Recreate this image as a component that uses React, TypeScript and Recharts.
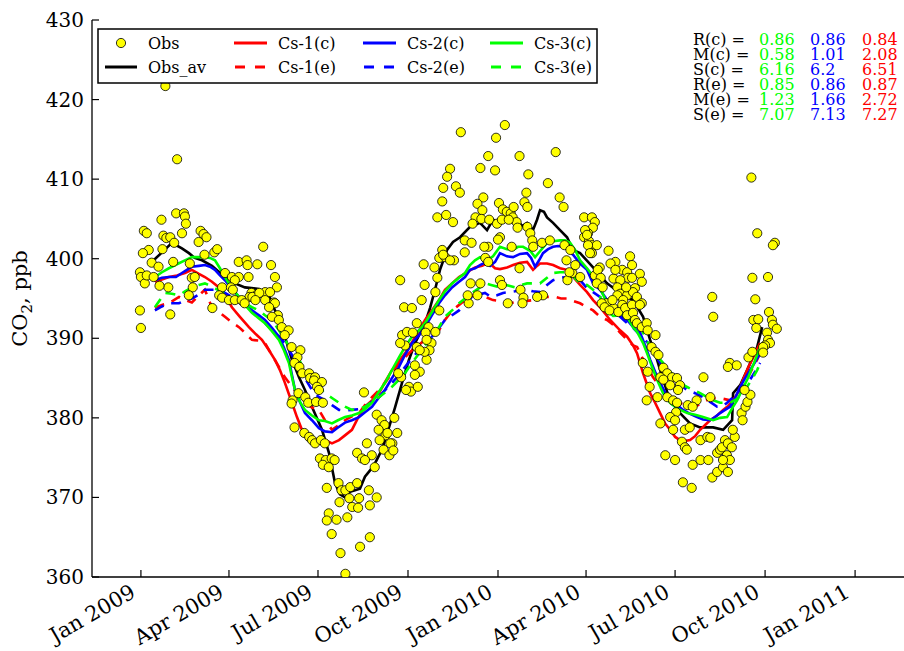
import React from 'react';
import { ComposedChart, Line, Scatter, XAxis, YAxis } from 'recharts';

// ---------- data (day = days since 1 Jan 2009, value = CO2 ppb) ----------
const xTickDays = [0, 90, 181, 273, 365, 455, 546, 638, 730];
const xTickLabels = ['Jan 2009', 'Apr 2009', 'Jul 2009', 'Oct 2009', 'Jan 2010', 'Apr 2010', 'Jul 2010', 'Oct 2010', 'Jan 2011'];
const yTicks = [360, 370, 380, 390, 400, 410, 420, 430];

const statLabels = ['R(c) =', 'M(c) =', 'S(c) =', 'R(e) =', 'M(e) =', 'S(e) ='];
const cs3Stats = ['0.86', '0.58', '6.16', '0.85', '1.23', '7.07'];
const cs2Stats = ['0.86', '1.01', '6.2', '0.86', '1.66', '7.13'];
const cs1Stats = ['0.84', '2.08', '6.51', '0.87', '2.72', '7.27'];

const obs: [number, number][] = [
  [25,421.7],[37,412.5],[36,405.7],[44,405.7],[45,405.3],[21,404.9],[46,404.4],[3,403.5],[6,403.2],[23,402.9],[26,402.6],[30,402.7],[42,403.2],[61,403.5],[64,403.1],[67,402.7],[59,402.1],[34,402.0],[22,401.2],[8,401.1],[2,400.7],[75,400.8],[78,401.2],[65,400.5],[125,401.5],[11,399.5],[33,399.6],[50,399.4],[18,399.0],[-1,398.3],[0,397.7],[4,396.9],[6,397.9],[13,397.7],[28,396.4],[19,396.6],[52,397.6],[55,397.7],[53,396.4],[49,395.4],[86,398.2],[93,397.7],[100,399.6],[108,399.8],[109,399.2],[119,399.3],[133,399.2],[100,397.7],[96,397.3],[110,397.7],[137,397.7],[139,396.4],[83,396.4],[92,396.4],[113,395.7],[111,395.2],[118,395.4],[127,395.8],[136,394.5],[140,392.9],[-1,393.5],[30,393.0],[73,393.8],
  [0,391.3],[80,395.4],[83,395.1],[94,396.1],[90,394.8],[96,394.8],[103,394.8],[114,395.2],[106,394.4],[121,395.7],[117,394.8],[127,394.8],[132,395.8],[137,394.4],[131,393.9],[134,392.7],[141,392.3],[144,391.4],[151,391.0],[147,390.4],[154,388.9],[163,388.5],[160,387.6],[157,386.9],[162,386.4],[165,385.6],[172,385.6],[173,385.0],[178,385.1],[177,384.7],[185,384.5],[180,383.9],[182,383.5],[161,383.1],[168,382.6],[171,381.9],[155,382.2],[154,381.8],[179,382.0],[186,381.9],[157,378.8],[167,378.1],[172,377.6],[175,377.2],[178,376.8],[184,377.2],[188,376.8],[183,374.9],[189,374.7],[195,374.9],[198,374.7],[186,374.1],[192,373.8],[190,371.2],[202,371.8],[205,370.9],[209,370.9],[214,371.3],[221,371.8],[203,369.4],[213,369.9],[223,369.9],[233,370.9],[241,370.0],[216,368.8],[222,368.7],[234,369.0],[192,368.0],[190,367.1],[200,367.2],[211,367.5],[195,365.4],[234,365.0],[204,363.0],[224,363.8],[209,360.4],[228,383.2],[231,376.8],[221,375.6],[226,374.9],[236,375.3],[239,373.8],[229,374.7],[241,380.4],[246,379.7],[249,379.1],[243,378.5],[250,377.8],[259,380.0],[262,378.1],[257,376.8],[244,377.2],[248,376.0],[255,376.8],[254,375.3],[258,375.9],[265,397.3],[269,393.9],[277,393.8],[287,394.8],[290,396.7],[289,399.3],[300,398.9],[267,390.4],[272,390.8],[278,390.7],[282,391.9],[294,391.4],[291,390.7],[301,390.8],[305,393.5],[297,389.4],[295,388.5],[292,387.3],[285,385.8],[280,385.4],[266,385.1],[274,383.9],[276,383.3],[283,383.9],[271,383.5],[337,396.9],[347,396.9],[335,394.4],[305,400.1],[311,400.2],[320,399.8],
  [308,401.1],[309,400.5],[316,399.8],[303,397.6],[301,395.8],[282,388.9],[270,389.1],[290,388.3],[280,386.6],[263,385.6],[252,378.1],[344,395.4],[367,397.3],[369,396.7],[388,396.1],[391,395.1],[390,394.4],[375,394.4],[352,400.1],[355,399.6],[331,402.3],[338,402.0],[355,401.5],[379,401.5],[387,398.8],
  [372,416.8],[327,415.9],[363,415.2],[424,413.4],[355,412.9],[387,412.9],[316,411.3],[313,410.3],[347,411.4],[362,411.1],[396,410.6],[322,409.1],[326,408.3],[309,408.9],[416,409.5],[308,407.2],[350,407.7],[344,406.9],[394,408.3],[392,407.1],[395,406.5],[428,407.7],[432,406.5],[366,407.0],[370,406.2],[374,405.9],[378,405.7],[381,406.5],[349,406.1],[303,405.2],[312,405.5],[319,404.6],[342,405.2],[348,405.0],[356,404.9],[364,404.4],[369,404.9],[339,404.4],[380,405.2],[384,404.6],[376,404.9],[385,403.9],[395,404.0],[398,403.2],[367,402.7],[365,402.4],[351,401.5],[400,402.3],[401,401.5],[410,402.0],[418,402.3],[453,405.2],[461,405.2],[464,404.6],[462,403.9],[457,403.2],[453,402.7],[458,402.2],[461,401.7],[466,401.7],[461,400.7],[478,401.0],[485,399.6],[480,399.4],[492,398.6],[497,398.3],[500,400.3],[502,399.2],[510,398.1],[512,397.1],[505,396.3],[498,397.6],[469,398.9],[464,397.9],[483,397.5],[490,397.3],[487,396.4],[490,395.6],[497,395.4],[503,395.8],[507,395.2],[512,394.4],[476,394.4],[483,393.8],[526,390.4],[331,400.8],[334,395.4],[411,395.4],[405,395.2],[436,397.3],[441,398.2],[265,389.4],[292,389.8],[285,388.5],
  [454,403.6],[456,403.0],[457,401.7],[459,400.7],[433,401.7],[439,401.1],[435,399.8],[444,399.2],[438,398.3],[449,397.7],[467,398.6],[470,397.6],[466,396.9],[472,396.4],[485,398.6],[502,397.6],[496,396.4],[487,395.4],[482,394.8],[493,394.8],[492,394.2],[471,394.4],[474,393.9],[479,393.5],[488,393.3],[495,393.8],[497,392.9],[502,394.2],[510,394.2],[503,393.2],[505,392.3],[507,391.9],[512,391.4],[517,391.9],[518,391.0],[513,386.9],[518,385.8],[522,388.9],[526,388.3],[529,387.9],[534,386.3],[538,385.6],[531,385.1],[543,385.1],[548,385.0],[551,384.1],[549,383.5],[541,384.1],[534,384.8],[520,383.9],[528,382.6],[517,382.2],[538,382.6],[544,382.2],[548,381.9],[547,380.7],[559,381.6],[568,382.2],[564,381.4],[575,385.1],[582,382.6],[541,380.1],[546,379.7],[544,378.5],[531,379.3],[556,378.5],[561,378.8],[553,377.0],[556,376.3],[558,376.0],[572,377.2],[579,377.6],[582,377.5],[536,375.3],[546,374.7],[564,374.1],[572,374.7],[580,374.7],[554,371.9],[563,371.2],[584,372.5],[589,373.2],[595,373.8],[600,373.2],[589,375.6],[592,376.0],[599,375.3],[602,374.7],[595,374.7],[597,377.2],[594,376.3],[600,376.8],[604,376.3],[607,377.6],[605,378.5],[602,386.9],[609,386.6],[600,386.4],[614,380.6],[615,379.7],[618,381.4],[620,382.0],[623,382.9],[617,383.5],[621,387.6],[584,395.2],[585,392.7],[625,397.6],[641,397.7],[628,394.9],[630,403.2],[648,402.0],[646,401.7],[642,393.3],[626,392.3],[629,391.3],[631,392.4],[645,392.3],[646,391.7],[650,391.2],[640,390.7],[641,389.8],[643,389.4],[638,389.1],[636,388.9],[636,388.2],[625,388.3],[624,410.2],
];

const obsAv: [number, number][] = [
  [13,399.8],[21.5,400.8],[31.7,402.0],[41.9,401.3],[49.1,400.7],[55,400.1],[62.4,399.8],[72.6,399.1],[85.9,397.7],[96.1,396.9],[106.3,396.4],[120.7,396.2],[130.9,395.4],[137,393.5],[141.1,392.7],[147.2,390.2],[154.4,387.3],[161.6,385.1],[167.7,383.5],[174.8,381.4],[185.1,378.5],[192.2,375.6],[198.4,371.8],[203.5,370.4],[208.6,370.0],[213.7,370.7],[218.8,370.9],[223.9,371.1],[229,372.6],[234.2,373.4],[239.3,374.3],[246.4,376.0],[253.6,378.8],[259.7,381.3],[266.9,384.4],[274,387.3],[280.2,389.4],[290.4,391.9],[295.5,393.8],[300.6,396.1],[305.7,398.6],[312.9,401.1],[319,402.1],[326.2,402.7],[336.4,404.0],[346.6,404.5],[353.8,403.6],[359.9,404.9],[367,404.5],[374.2,405.2],[379.4,404.6],[384.5,404.9],[389.6,404.1],[394.7,404.5],[400.8,403.6],[404.9,404.9],[408,406.1],[412,405.9],[415.1,405.2],[421.3,404.5],[428.4,403.6],[435.6,402.7],[441.7,401.1],[448.9,400.7],[462.2,398.9],[476.5,396.9],[489.8,395.7],[503.1,394.8],[513.3,392.7],[520.5,389.8],[527.6,387.3],[533.7,384.8],[540.9,382.2],[551.1,380.6],[561.3,379.3],[571.6,378.8],[584.9,378.8],[595.1,378.5],[604.3,379.7],[605.3,383.1],[612.5,384.1],[619.7,386.0],[629.9,388.9],[635,391.4],
];

const cs1c: [number, number][] = [
  [14.3,397.1],[21.5,397.4],[28.6,397.7],[36.8,397.9],[45,398.2],[52.1,398.6],[59.3,398.1],[65.4,397.7],[72.6,397.1],[79.8,396.4],[86.9,395.2],[93,393.9],[101.2,392.7],[110.4,391.4],[117.6,390.5],[123.7,389.8],[130.9,388.5],[137,387.3],[142.1,386.0],[147.2,384.4],[154.4,381.9],[159.5,380.1],[164.6,378.5],[169.7,377.6],[174.8,377.0],[180,376.8],[185.1,376.8],[190.2,377.1],[195.3,376.8],[202.5,377.2],[208.6,377.8],[215.7,378.5],[221.9,380.0],[229,381.4],[236.2,382.2],[243.4,383.1],[249.5,384.5],[256.6,386.0],[263.8,387.1],[269.9,388.1],[277.1,389.5],[284.3,391.0],[290.4,392.3],[297.5,393.5],[304.7,394.8],[310.8,396.1],[318,396.9],[325.2,397.7],[333.3,398.3],[341.5,398.9],[348.7,399.1],[355.8,399.5],[362,398.8],[367,398.7],[374.2,398.9],[380.4,399.2],[387.5,399.5],[394.7,399.6],[400.8,398.6],[404.9,399.1],[408,399.4],[415.1,399.4],[421.3,399.2],[428.4,398.8],[435.6,398.6],[441.7,397.7],[448.9,396.7],[456,395.8],[462.2,394.8],[469.3,393.9],[479.6,392.3],[489.8,391.0],[497,390.2],[503.1,389.1],[507.2,388.1],[513.3,385.6],[520.5,383.1],[525.6,381.9],[530.7,380.6],[535.8,379.3],[540.9,378.5],[546.1,377.6],[551.1,377.2],[556.2,377.1],[561.3,377.2],[566.5,377.7],[571.6,378.5],[576.7,379.1],[581.8,379.7],[589,380.3],[595.1,381.0],[600.2,381.5],[605.3,382.2],[610.4,383.2],[615.5,384.8],[620.6,386.3],[625.8,387.6],[632.9,389.4],
];

const cs2c: [number, number][] = [
  [14.3,397.3],[21.5,397.6],[28.6,397.7],[35.8,397.7],[41.9,398.2],[47,398.6],[52.1,399.0],[59.3,399.1],[65.4,399.2],[70.6,399.0],[75.7,398.6],[80.8,397.9],[85.9,397.3],[93,396.2],[100.2,395.2],[106.3,394.4],[113.5,393.5],[120.7,392.9],[126.8,392.3],[133.9,391.3],[141.1,390.2],[146.2,388.8],[151.3,387.3],[154.4,385.4],[157.5,383.5],[162.6,382.0],[167.7,380.6],[174.8,379.7],[182,378.7],[188.1,378.3],[195.3,378.2],[200.4,378.7],[208.6,379.4],[215.7,379.7],[222.9,380.1],[229,380.7],[236.2,381.4],[242.3,382.4],[249.5,383.5],[256.6,385.0],[263.8,386.4],[269.9,387.9],[277.1,389.4],[284.3,390.4],[290.4,391.4],[297.5,392.9],[304.7,394.4],[310.8,395.4],[318,396.4],[325.2,397.1],[331.3,397.7],[336.4,398.6],[341.5,398.8],[346.6,399.2],[351.7,399.5],[356.9,399.1],[362,399.6],[367,400.7],[374.2,400.3],[380.4,400.2],[387.5,400.6],[394.7,400.7],[398.8,400.1],[402.9,399.0],[407,399.8],[411,400.7],[416.2,401.2],[421.3,401.5],[426.4,401.6],[431.5,401.5],[436.6,401.1],[441.7,400.5],[448.9,399.4],[456,398.6],[462.2,396.9],[469.3,396.1],[475.5,395.0],[482.7,393.8],[489.8,392.9],[497,392.3],[503.1,391.4],[510.3,390.7],[515.4,389.1],[520.5,387.3],[525.6,385.8],[530.7,384.4],[535.8,383.2],[540.9,382.2],[548.1,381.6],[554.2,381.0],[561.3,380.5],[568.5,380.1],[574.6,379.8],[581.8,379.7],[586.9,380.1],[592,380.6],[597.1,381.0],[602.2,381.4],[607.4,382.5],[612.5,383.9],[617.6,385.0],[622.7,386.0],[627.8,387.0],[632.9,388.1],
];

const cs3c: [number, number][] = [
  [14.3,397.7],[21.5,398.3],[28.6,398.8],[36.8,399.3],[45,399.8],[52.1,400.2],[59.3,400.2],[65.4,400.2],[70.6,400.1],[75.7,399.8],[80.8,398.8],[85.9,397.7],[93,396.3],[100.2,395.2],[106.3,394.2],[113.5,393.2],[120.7,392.5],[126.8,391.9],[133.9,390.9],[141.1,389.8],[146.2,388.5],[151.3,386.9],[154.4,385.1],[157.5,383.5],[162.6,382.0],[167.7,381.0],[174.8,380.3],[182,379.7],[188.1,379.6],[195.3,379.3],[201.4,379.7],[208.6,380.1],[215.7,380.3],[222.9,380.6],[229,381.1],[236.2,381.9],[242.3,383.1],[249.5,384.4],[256.6,386.0],[263.8,387.6],[269.9,388.9],[277.1,390.2],[284.3,391.0],[290.4,391.9],[297.5,393.3],[304.7,394.8],[310.8,395.9],[318,396.9],[325.2,397.6],[331.3,398.2],[336.4,399.2],[341.5,399.8],[346.6,400.2],[353.8,399.8],[359.9,400.3],[367,401.5],[374.2,401.2],[380.4,401.1],[385.5,401.5],[390.6,401.5],[397.8,401.0],[402.9,400.2],[409,401.1],[415.1,402.0],[421.3,402.2],[428.4,402.3],[433.5,402.3],[438.7,402.0],[443.8,401.1],[448.9,399.8],[456,398.8],[462.2,397.8],[469.3,396.3],[476.5,394.4],[482.7,393.5],[489.8,393.2],[497,392.7],[503.1,391.4],[507.2,390.8],[513.3,389.4],[517.4,388.1],[522.5,386.4],[527.6,384.8],[533.7,383.1],[540.9,381.9],[548.1,381.2],[558.3,380.6],[566.5,380.4],[574.6,380.1],[584.9,379.7],[592,380.0],[599.2,380.1],[604.3,381.2],[609.4,382.2],[614.5,383.5],[619.7,384.8],[625.8,386.6],[632.9,388.9],
];

const cs1e: [number, number][] = [
  [14.3,393.8],[21.5,394.2],[28.6,394.4],[38.9,395.2],[45,394.8],[52.1,394.5],[59.3,395.4],[65.4,396.1],[69.5,394.8],[72.6,393.9],[79.8,393.3],[85.9,392.7],[93,392.0],[100.2,391.4],[106.3,390.7],[113.5,389.8],[120.7,389.7],[126.8,389.4],[133.9,387.9],[141.1,386.4],[147.2,385.1],[154.4,383.9],[161.6,382.7],[167.7,381.9],[174.8,381.3],[182,381.0],[188.1,379.7],[195.3,378.5],[202.5,379.1],[208.6,379.7],[215.7,380.2],[222.9,380.6],[229,381.6],[236.2,382.6],[243.4,383.5],[249.5,384.4],[256.6,385.6],[263.8,386.9],[269.9,387.6],[277.1,388.5],[284.3,389.2],[290.4,389.8],[297.5,390.4],[304.7,391.0],[310.8,392.3],[318,393.5],[325.2,394.2],[331.3,394.8],[338.4,395.3],[345.6,395.7],[351.7,395.2],[359.9,394.8],[367,394.7],[374.2,394.4],[380.4,394.5],[387.5,394.8],[394.7,394.7],[400.8,394.8],[408,395.0],[415.1,395.2],[423.3,395.2],[429.4,395.0],[435.6,395.0],[441.7,394.7],[448.9,394.4],[456,393.9],[462.2,393.5],[469.3,392.7],[476.5,392.3],[482.7,391.7],[489.8,390.7],[497,389.8],[503.1,389.1],[507.2,388.9],[512.3,387.6],[517.4,386.4],[523.5,385.1],[530.7,383.9],[537.9,382.9],[544,382.2],[554.2,381.7],[564.4,381.3],[569.5,381.6],[574.6,382.0],[581.8,382.4],[589,382.5],[595.1,382.4],[602.2,382.2],[609.4,382.9],[615.5,383.9],[620.6,385.1],[625.8,386.4],[629.9,387.3],[632.9,388.1],
];

const cs2e: [number, number][] = [
  [14.3,393.5],[21.5,394.0],[28.6,394.4],[38.9,394.4],[46,394.8],[52.1,395.0],[59.3,395.5],[65.4,396.1],[72.6,396.1],[79.8,396.1],[85.9,395.7],[93,395.2],[100.2,394.5],[106.3,393.9],[113.5,393.3],[120.7,392.7],[126.8,391.9],[133.9,391.0],[141.1,390.2],[147.2,389.4],[154.4,387.9],[161.6,386.4],[167.7,385.0],[174.8,383.5],[181,382.7],[188.1,382.2],[195.3,381.6],[202.5,381.0],[208.6,380.9],[215.7,381.0],[222.9,381.1],[229,381.4],[236.2,382.0],[243.4,382.6],[249.5,383.5],[256.6,384.4],[263.8,385.4],[269.9,386.4],[277.1,387.5],[284.3,388.5],[290.4,389.4],[297.5,390.2],[304.7,391.3],[310.8,392.3],[318,392.9],[325.2,393.5],[331.3,394.4],[338.4,395.2],[345.6,395.5],[351.7,395.7],[357.9,395.2],[364,395.4],[370.1,395.7],[376.3,395.8],[382.4,395.9],[388.6,396.1],[394.7,396.1],[400.8,395.9],[408,395.8],[415.1,396.7],[421.3,397.3],[428.4,397.6],[435.6,397.7],[441.7,397.6],[448.9,397.3],[456,396.3],[462.2,395.8],[469.3,395.2],[476.5,394.4],[482.7,393.5],[489.8,392.7],[497,391.9],[503.1,391.3],[510.3,390.4],[515.4,389.8],[520.5,389.1],[525.6,387.9],[530.7,386.9],[537.9,386.0],[544,385.1],[551.1,384.2],[558.3,383.5],[566.5,383.1],[574.6,382.6],[581.8,382.0],[589,381.4],[594,381.4],[599.2,381.9],[605.3,382.6],[612.5,383.5],[617.6,384.3],[622.7,384.8],[627.8,385.8],[632.9,386.9],
];

const cs3e: [number, number][] = [
  [14.3,393.9],[19.4,394.8],[24.5,395.7],[31.7,395.6],[38.9,395.4],[45,395.9],[52.1,396.4],[59.3,396.7],[65.4,396.9],[72.6,396.5],[79.8,396.0],[85.9,395.7],[93,395.2],[100.2,394.8],[106.3,394.4],[113.5,393.9],[120.7,393.5],[126.8,392.9],[133.9,392.3],[141.1,391.0],[147.2,389.8],[154.4,388.5],[161.6,387.3],[167.7,386.0],[174.8,384.8],[181,383.9],[188.1,383.1],[195.3,382.5],[202.5,381.9],[208.6,381.4],[215.7,381.0],[222.9,381.1],[229,381.4],[236.2,382.0],[243.4,382.6],[249.5,383.2],[256.6,383.9],[263.8,384.8],[269.9,385.6],[277.1,386.9],[284.3,388.1],[290.4,389.1],[297.5,390.2],[304.7,391.4],[310.8,392.7],[318,393.5],[325.2,394.4],[331.3,395.0],[338.4,395.7],[345.6,396.3],[351.7,396.9],[357.9,396.7],[364,396.5],[370.1,396.8],[376.3,396.6],[382.4,396.4],[388.6,396.7],[394.7,396.9],[400.8,396.9],[408,396.9],[415.1,397.6],[421.3,398.2],[428.4,398.3],[435.6,398.3],[441.7,397.8],[448.9,396.9],[456,396.7],[462.2,396.1],[469.3,395.2],[476.5,393.5],[482.7,392.8],[489.8,392.9],[497,392.6],[502,392.4],[507.2,392.1],[513.3,390.7],[520.5,388.9],[526.6,387.9],[533.7,386.9],[540.9,385.8],[548.1,384.8],[556.2,384.0],[564.4,383.5],[571.6,383.1],[578.7,382.6],[584.9,382.2],[592,381.9],[602.2,381.9],[609.4,382.4],[615.5,383.1],[620.6,384.1],[625.8,385.1],[629.9,386.0],[632.9,386.9],
];

// ---------- helpers ----------
const toRows = (arr: [number, number][]) => arr.map(([day, v]) => ({ day, v }));
const FONT = "'DejaVu Serif', serif";
const RED = '#ff0000';
const BLUE = '#0000ff';
const GREEN = '#00ff00';
const DASH = '10 8';
const LW = 2.6;

const labelFor = (d: number) => {
  const i = xTickDays.indexOf(d);
  return i >= 0 ? xTickLabels[i] : '';
};

const BottomTick = (props: any) => {
  const { x, y, payload } = props;
  const tx = x - 4;
  const ty = y + 19;
  return (
    <g>
      <line x1={x} x2={x} y1={y} y2={y - 7} stroke="#000" strokeWidth={1.2} />
      <text x={tx} y={ty} textAnchor="end" fontFamily={FONT} fontSize={21} fill="#000" transform={`rotate(-30 ${tx} ${ty})`}>
        {labelFor(payload.value)}
      </text>
    </g>
  );
};

const TopTick = (props: any) => {
  const { x, y } = props;
  return <line x1={x} x2={x} y1={y} y2={y + 7} stroke="#000" strokeWidth={1.2} />;
};

const LeftTick = (props: any) => {
  const { x, y, payload } = props;
  return (
    <g>
      <line x1={x} x2={x + 7} y1={y} y2={y} stroke="#000" strokeWidth={1.2} />
      <text x={x - 8} y={y + 7} textAnchor="end" fontFamily={FONT} fontSize={20} fill="#000">
        {payload.value}
      </text>
    </g>
  );
};

const Dot = (props: any) => {
  const { cx, cy } = props;
  if (cx == null || cy == null) return null;
  return <circle cx={cx} cy={cy} r={4.6} fill="#ffff00" stroke="#000" strokeWidth={0.8} />;
};

const statColumns = [
  { values: cs3Stats, color: GREEN, x: 759 },
  { values: cs2Stats, color: BLUE, x: 810 },
  { values: cs1Stats, color: RED, x: 862 },
];

const legendItems = [
  { label: 'Cs-1(c)', color: RED, dash: undefined as string | undefined, col: 0, row: 0 },
  { label: 'Cs-1(e)', color: RED, dash: '10 10', col: 0, row: 1 },
  { label: 'Cs-2(c)', color: BLUE, dash: undefined, col: 1, row: 0 },
  { label: 'Cs-2(e)', color: BLUE, dash: '10 10', col: 1, row: 1 },
  { label: 'Cs-3(c)', color: GREEN, dash: undefined, col: 2, row: 0 },
  { label: 'Cs-3(e)', color: GREEN, dash: '10 10', col: 2, row: 1 },
];
const legendColX = [136, 265, 392];

export default function App() {
  const W = 904;
  const H = 651;
  return (
    <div style={{ position: 'absolute', left: 0, top: 0, width: W, height: H, background: '#fff', overflow: 'hidden' }}>
      <ComposedChart width={W} height={H} margin={{ top: 20, right: 0, bottom: 0, left: 0 }}>
        <XAxis
          xAxisId={0}
          type="number"
          dataKey="day"
          domain={[-50, 780]}
          allowDataOverflow
          ticks={xTickDays}
          interval={0}
          height={74}
          tickSize={0}
          tickMargin={0}
          tick={<BottomTick />}
          axisLine={{ stroke: '#000', strokeWidth: 1.3 }}
        />
        <XAxis
          xAxisId="top"
          orientation="top"
          type="number"
          dataKey="day"
          domain={[-50, 780]}
          allowDataOverflow
          ticks={xTickDays}
          interval={0}
          height={0}
          tickSize={0}
          tickMargin={0}
          tick={<TopTick />}
          axisLine={{ stroke: '#000', strokeWidth: 1.3 }}
        />
        <YAxis
          type="number"
          dataKey="v"
          domain={[360, 430]}
          allowDataOverflow
          ticks={yTicks}
          interval={0}
          width={92}
          tickSize={0}
          tickMargin={0}
          tick={<LeftTick />}
          axisLine={{ stroke: '#000', strokeWidth: 1.3 }}
        />
        <Scatter data={toRows(obs)} dataKey="v" shape={<Dot />} isAnimationActive={false} />
        <Line data={toRows(obsAv)} dataKey="v" stroke="#000" strokeWidth={LW} dot={false} isAnimationActive={false} type="linear" />
        <Line data={toRows(cs1c)} dataKey="v" stroke={RED} strokeWidth={LW} dot={false} isAnimationActive={false} type="linear" />
        <Line data={toRows(cs1e)} dataKey="v" stroke={RED} strokeWidth={LW} strokeDasharray={DASH} dot={false} isAnimationActive={false} type="linear" />
        <Line data={toRows(cs2c)} dataKey="v" stroke={BLUE} strokeWidth={LW} dot={false} isAnimationActive={false} type="linear" />
        <Line data={toRows(cs2e)} dataKey="v" stroke={BLUE} strokeWidth={LW} strokeDasharray={DASH} dot={false} isAnimationActive={false} type="linear" />
        <Line data={toRows(cs3c)} dataKey="v" stroke={GREEN} strokeWidth={LW} dot={false} isAnimationActive={false} type="linear" />
        <Line data={toRows(cs3e)} dataKey="v" stroke={GREEN} strokeWidth={LW} strokeDasharray={DASH} dot={false} isAnimationActive={false} type="linear" />
      </ComposedChart>

      <svg width={W} height={H} style={{ position: 'absolute', left: 0, top: 0, pointerEvents: 'none' }}>
        {/* y axis label */}
        <text x={27} y={298.5} textAnchor="middle" fontFamily={FONT} fontSize={21} fill="#000" transform="rotate(-90 27 298.5)">
          <tspan>CO</tspan>
          <tspan fontSize={15} dy={5}>2</tspan>
          <tspan dy={-5}>, ppb</tspan>
        </text>

        {/* legend */}
        <g transform="translate(98,29)">
          <rect x={0} y={0} width={499} height={54} fill="#fff" stroke="#000" strokeWidth={1.5} />
          <circle cx={23} cy={14} r={4.6} fill="#ffff00" stroke="#000" strokeWidth={0.8} />
          <text x={50} y={20} fontFamily={FONT} fontSize={16} fill="#000">Obs</text>
          <line x1={7} x2={39} y1={38} y2={38} stroke="#000" strokeWidth={3} />
          <text x={50} y={44} fontFamily={FONT} fontSize={16} fill="#000">Obs_av</text>
          {legendItems.map((it) => {
            const lx = legendColX[it.col];
            const cy = it.row === 0 ? 14 : 38;
            return (
              <g key={it.label}>
                <line x1={lx + (it.dash ? 1 : 0)} x2={lx + 33} y1={cy} y2={cy} stroke={it.color} strokeWidth={3} strokeDasharray={it.dash} />
                <text x={lx + 44} y={cy + 6} fontFamily={FONT} fontSize={16} fill="#000">{it.label}</text>
              </g>
            );
          })}
        </g>

        {/* statistics */}
        {statLabels.map((lab, i) => (
          <text key={lab} x={693} y={45 + i * 15} fontFamily={FONT} fontSize={16} fill="#000">{lab}</text>
        ))}
        {statColumns.map((col, ci) =>
          col.values.map((v, i) => (
            <text key={`${ci}-${i}`} x={col.x} y={45 + i * 15} fontFamily={FONT} fontSize={16} fill={col.color}>{v}</text>
          ))
        )}
      </svg>
    </div>
  );
}
